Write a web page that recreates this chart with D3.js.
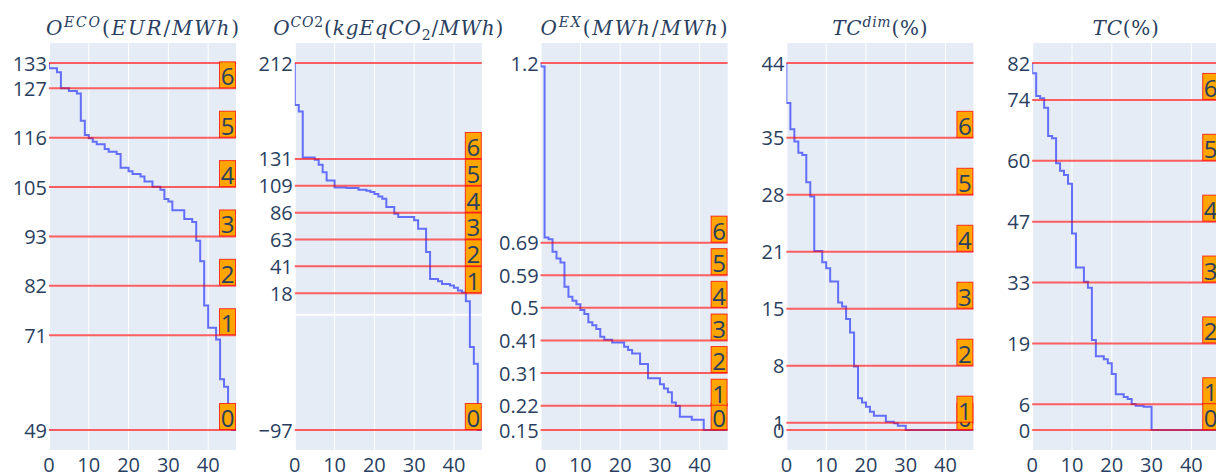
<!DOCTYPE html>
<html><head><meta charset="utf-8">
<script src="https://cdn.jsdelivr.net/npm/d3@7"></script>
<style>html,body{margin:0;padding:0;background:#fff;overflow:hidden} svg{display:block}</style>
</head><body>
<svg id="chart" width="1216" height="475"></svg>
<script>
// ---------- data ----------
const xTicks = [0, 10, 20, 30, 40];
const xMax = 47;

const ecoValues = [133,131.8,131.8,130.9,127.2,127.2,126.6,126.6,126.0,119.8,116.5,115.8,115.0,114.4,114.4,113.3,112.7,112.7,112.2,109.0,109.0,108.2,107.6,107.6,107.0,105.9,105.9,104.7,104.7,104.0,101.9,101.3,99.3,99.3,99.3,97.3,97.3,96.6,92.3,87.6,77.5,72.4,72.4,69.7,60.6,58.9,52,49];
const ecoLevels = [49, 70.7, 82.0, 93.3, 104.6, 115.9, 127.2, 133];
const ecoTickLabels = ["49","71","82","93","105","116","127","133"];

const co2Values = [212,176.7,171.1,132.5,132.5,132.5,130.5,126.3,120.1,113.1,113.1,107.2,107.2,107.2,106.8,106.8,106.8,105.3,105.3,104.4,103.3,101.6,99.7,97.7,90.7,90.7,85.1,82.3,82.3,82.3,82.3,79.5,72.5,72.5,52.9,30.2,30.2,28.3,26.0,26.0,24.6,22.7,20.4,18.7,11.4,-27.2,-41.2,-97];
const co2Levels = [-97, 18.2, 40.8, 63.4, 86.0, 108.6, 131.2, 212];
const co2TickLabels = ["\u221297","18","41","63","86","109","131","212"];

const exValues = [1.2,1.19,0.701,0.696,0.66,0.641,0.629,0.56,0.531,0.52,0.51,0.493,0.482,0.458,0.45,0.439,0.417,0.408,0.408,0.40,0.40,0.40,0.388,0.379,0.369,0.369,0.339,0.339,0.298,0.298,0.298,0.281,0.269,0.258,0.229,0.219,0.188,0.188,0.188,0.179,0.179,0.179,0.15,0.15,0.15,0.15,0.15,0.15];
const exLevels = [0.15, 0.2195, 0.313, 0.406, 0.4995, 0.593, 0.686, 1.2];
const exTickLabels = ["0.15","0.22","0.31","0.41","0.5","0.59","0.69","1.2"];

const tcdimValues = [44,39.2,36.05,34.6,33.25,32.97,29.7,28.0,21.46,21.46,20.1,19.4,17.8,17.8,15.3,14.8,13.3,11.7,7.6,3.8,3.3,2.8,2.2,1.7,1.7,1.7,1.0,1.0,0.8,0.5,0.5,0,0,0,0,0,0,0,0,0,0,0,0,0,0,0,0,0];
const tcdimLevels = [0, 0.88, 7.71, 14.54, 21.37, 28.2, 35.03, 44];
const tcdimTickLabels = ["0","1","8","15","21","28","35","44"];

const tcValues = [82,79.7,74.6,74.1,72.0,65.7,65.2,59.6,57.9,57.0,55.0,43.9,36.3,36.3,33.1,31.8,20.1,16.5,16.5,15.8,14.9,12.5,8.0,8.0,7.4,6.9,5.8,5.4,5.4,5.2,5.2,0,0,0,0,0,0,0,0,0,0,0,0,0,0,0,0,0];
const tcLevels = [0, 5.75, 19.35, 32.95, 46.55, 60.15, 73.75, 82];
const tcTickLabels = ["0","6","19","33","47","60","74","82"];

const levelLabels = ["0","1","2","3","4","5","6"];

// title segments: [text, style]  i=italic, u=upright, sup/supu/sub
const ecoTitle = [["O","i"],["ECO","sup"],["(","u"],["EUR","i"],["/","u"],["MWh","i"],[")","u"]];
const co2Title = [["O","i"],["CO","sup"],["2","supu"],["(","u"],["kgEqCO","i"],["2","sub"],["/","u"],["MWh","i"],[")","u"]];
const exTitle = [["O","i"],["EX","sup"],["(","u"],["MWh","i"],["/","u"],["MWh","i"],[")","u"]];
const tcdimTitle = [["TC","i"],["dim","sup"],["(%)","u"]];
const tcTitle = [["TC","i"],["(%)","u"]];

// ---------- layout ----------
const W = 1216, H = 475;
const plotTop = 43, plotBottom = 450, plotW = 187;
const panelStep = 245.8, firstLeft = 49;
const tickColor = "#2a3f5f";
const titleWidths = [195, 231, 189, 96, 67];

const panels = [
  {title: ecoTitle, values: ecoValues, levels: ecoLevels, ticks: ecoTickLabels},
  {title: co2Title, values: co2Values, levels: co2Levels, ticks: co2TickLabels},
  {title: exTitle, values: exValues, levels: exLevels, ticks: exTickLabels},
  {title: tcdimTitle, values: tcdimValues, levels: tcdimLevels, ticks: tcdimTickLabels},
  {title: tcTitle, values: tcValues, levels: tcLevels, ticks: tcTickLabels}
];

const svg = d3.select("#chart");
svg.append("rect").attr("width", W).attr("height", H).attr("fill", "#fff");

panels.forEach((p, i) => {
  const left = firstLeft + i * panelStep;
  const right = left + plotW;
  const lo = d3.min(p.levels), hi = d3.max(p.levels);
  const pad = (hi - lo) * 20 / 367;
  const x = d3.scaleLinear().domain([0, xMax]).range([left, right]);
  const y = d3.scaleLinear().domain([lo - pad, hi + pad]).range([plotBottom, plotTop]);

  const g = svg.append("g");
  const clipId = "clip" + i;
  g.append("clipPath").attr("id", clipId).append("rect")
    .attr("x", left).attr("y", plotTop).attr("width", plotW).attr("height", plotBottom - plotTop);

  g.append("rect").attr("x", left).attr("y", plotTop).attr("width", plotW)
    .attr("height", plotBottom - plotTop).attr("fill", "#E5ECF6");

  // grid
  g.selectAll(".vg").data(xTicks.filter(d => d > 0)).join("line")
    .attr("x1", d => x(d)).attr("x2", d => x(d)).attr("y1", plotTop).attr("y2", plotBottom)
    .attr("stroke", "#fff").attr("stroke-width", 1);
  g.selectAll(".hg").data(p.levels).join("line")
    .attr("x1", left).attr("x2", right).attr("y1", d => y(d)).attr("y2", d => y(d))
    .attr("stroke", "#fff").attr("stroke-width", 1);
  // zero lines
  g.append("line").attr("x1", x(0)).attr("x2", x(0)).attr("y1", plotTop).attr("y2", plotBottom)
    .attr("stroke", "#fff").attr("stroke-width", 2);
  if (lo - pad < 0 && hi + pad > 0) {
    g.append("line").attr("x1", left).attr("x2", right).attr("y1", y(0)).attr("y2", y(0))
      .attr("stroke", "#fff").attr("stroke-width", 2);
  }

  // data line (vertical-then-horizontal steps)
  const line = d3.line().x((d, k) => x(k)).y(d => y(d)).curve(d3.curveStepBefore);
  g.append("path").datum(p.values).attr("d", line)
    .attr("clip-path", `url(#${clipId})`)
    .attr("fill", "none").attr("stroke", "#636efa").attr("stroke-width", 2);

  // level lines
  g.selectAll(".lv").data(p.levels).join("line")
    .attr("x1", left).attr("x2", right).attr("y1", d => y(d)).attr("y2", d => y(d))
    .attr("stroke", "rgba(255,0,0,0.62)").attr("stroke-width", 2);

  // label boxes
  const bw = 17, bh = 27;
  levelLabels.forEach((lab, k) => {
    const ly = y(p.levels[k]);
    g.append("rect").attr("x", right - bw + 0.5).attr("y", ly - bh + 0.5)
      .attr("width", bw - 1).attr("height", bh - 1)
      .attr("fill", "#FFA500").attr("stroke", "rgba(255,0,0,0.75)").attr("stroke-width", 1);
    g.append("text").attr("x", right - bw / 2).attr("y", ly - bh / 2 + 1)
      .attr("text-anchor", "middle").attr("dominant-baseline", "central")
      .style("font-family", "'Open Sans', sans-serif").style("font-size", "24px")
      .attr("fill", tickColor).text(lab);
  });

  // y tick labels
  g.selectAll(".yt").data(p.levels).join("text")
    .attr("x", left - 2).attr("y", d => y(d)).attr("text-anchor", "end")
    .attr("dominant-baseline", "central")
    .style("font-family", "'Open Sans', sans-serif").style("font-size", "20px")
    .attr("fill", tickColor).text((d, k) => p.ticks[k]);

  // x tick labels
  g.selectAll(".xt").data(xTicks).join("text")
    .attr("x", d => x(d)).attr("y", 464).attr("text-anchor", "middle")
    .attr("dominant-baseline", "central")
    .style("font-family", "'Open Sans', sans-serif").style("font-size", "20px")
    .attr("fill", tickColor).text(d => d);

  // title
  const cx = (left + right) / 2;
  const t = g.append("text").attr("x", cx).attr("y", 35)
    .attr("text-anchor", "start")
    .style("font-family", "'DejaVu Serif', 'Liberation Serif', serif")
    .style("font-size", "20px").attr("fill", tickColor);
  let shift = 0, nChars = 0;
  p.title.forEach(([txt, st]) => {
    const target = (st === "sup" || st === "supu") ? -8 : st === "sub" ? 5 : 0;
    const ts = t.append("tspan").attr("dy", target - shift).text(txt);
    shift = target;
    nChars += txt.length;
    ts.style("font-style", (st === "i" || st === "sup") ? "italic" : "normal");
    if (target !== 0) ts.style("font-size", "14px");
  });
  // fit to reference width by letter spacing, then center
  let bw0 = t.node().getBBox().width;
  const ls = Math.max(-1, Math.min(4, (titleWidths[i] - bw0) / nChars));
  t.style("letter-spacing", ls + "px");
  const bb = t.node().getBBox();
  t.attr("x", cx - bb.width / 2 + ls / 2);
});
</script>
</body></html>
